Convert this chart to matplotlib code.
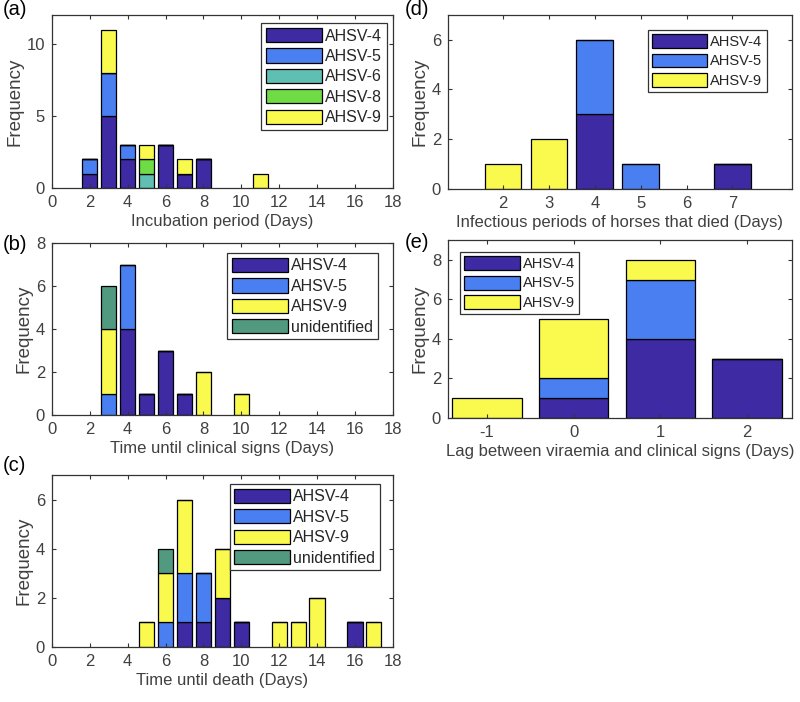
import matplotlib.pyplot as plt
import numpy as np

plt.rcParams['font.family'] = ['Liberation Sans', 'DejaVu Sans']
plt.rcParams['axes.unicode_minus'] = False

# colours for each serotype
c4 = '#3e2aa3'
c5 = '#4a7ff2'
c6 = '#5fbfb2'
c8 = '#6fdc46'
c9 = '#f9f94e'
cu = '#529a7f'

# (a) incubation period
a_days = [2, 3, 4, 5, 6, 7, 8, 11]
a_ahsv4 = [1, 5, 2, 0, 3, 1, 2, 0]
a_ahsv5 = [1, 3, 1, 0, 0, 0, 0, 0]
a_ahsv6 = [0, 0, 0, 1, 0, 0, 0, 0]
a_ahsv8 = [0, 0, 0, 1, 0, 0, 0, 0]
a_ahsv9 = [0, 3, 0, 1, 0, 1, 0, 1]

# (b) time until clinical signs
b_days = [3, 4, 5, 6, 7, 8, 10]
b_ahsv4 = [0, 4, 1, 3, 1, 0, 0]
b_ahsv5 = [1, 3, 0, 0, 0, 0, 0]
b_ahsv9 = [3, 0, 0, 0, 0, 2, 1]
b_unid = [2, 0, 0, 0, 0, 0, 0]

# (c) time until death
c_days = [5, 6, 7, 8, 9, 10, 12, 13, 14, 16, 17]
c_ahsv4 = [0, 0, 1, 1, 2, 1, 0, 0, 0, 1, 0]
c_ahsv5 = [0, 1, 2, 2, 0, 0, 0, 0, 0, 0, 0]
c_ahsv9 = [1, 2, 3, 0, 2, 0, 1, 1, 2, 0, 1]
c_unid = [0, 1, 0, 0, 0, 0, 0, 0, 0, 0, 0]

# (d) infectious periods of horses that died
d_days = [2, 3, 4, 5, 7]
d_ahsv4 = [0, 0, 3, 0, 1]
d_ahsv5 = [0, 0, 3, 1, 0]
d_ahsv9 = [1, 2, 0, 0, 0]

# (e) lag between viraemia and clinical signs
e_days = [-1, 0, 1, 2]
e_ahsv4 = [0, 1, 4, 3]
e_ahsv5 = [0, 1, 3, 0]
e_ahsv9 = [1, 3, 1, 0]

txt = '#404040'


def stacked(ax, x, series, labels, colors):
    bottom = np.zeros(len(x))
    for vals, lab, col in zip(series, labels, colors):
        vals = np.array(vals, dtype=float)
        ax.bar(x, vals, width=0.8, bottom=bottom, color=col,
               edgecolor='black', linewidth=0.9, label=lab)
        bottom = bottom + vals


def style(ax, xlabel):
    ax.set_xlabel(xlabel, fontsize=12, color=txt, labelpad=3)
    ax.set_ylabel('Frequency', fontsize=13.5, color=txt, labelpad=2)
    ax.tick_params(direction='in', top=True, right=True, length=3,
                   labelsize=12, labelcolor=txt, color='#333333', pad=5)
    for s in ax.spines.values():
        s.set_color('#333333')
        s.set_linewidth(0.9)


def legend(ax, loc, anchor, fs=11.5):
    lg = ax.legend(loc=loc, bbox_to_anchor=anchor, borderaxespad=0,
                   fontsize=fs, handlelength=40 / fs, handleheight=11.5 / fs,
                   handletextpad=0.2, labelspacing=0.3, borderpad=0.3,
                   fancybox=False, framealpha=1)
    lg.get_frame().set_edgecolor('#333333')
    lg.get_frame().set_linewidth(0.9)
    for t in lg.get_texts():
        t.set_color('#262626')


fig = plt.figure(figsize=(8, 7.02), dpi=100)

ax = fig.add_axes([0.065, 0.732, 0.426, 0.2464])
stacked(ax, a_days, [a_ahsv4, a_ahsv5, a_ahsv6, a_ahsv8, a_ahsv9],
        ['AHSV-4', 'AHSV-5', 'AHSV-6', 'AHSV-8', 'AHSV-9'], [c4, c5, c6, c8, c9])
ax.set_xlim(0, 18)
ax.set_ylim(0, 12)
ax.set_xticks(range(0, 19, 2))
ax.set_yticks([0, 5, 10])
style(ax, 'Incubation period (Days)')
legend(ax, 'upper right', (0.982, 0.954))

ax = fig.add_axes([0.065, 0.4088, 0.426, 0.245])
stacked(ax, b_days, [b_ahsv4, b_ahsv5, b_ahsv9, b_unid],
        ['AHSV-4', 'AHSV-5', 'AHSV-9', 'unidentified'], [c4, c5, c9, cu])
ax.set_xlim(0, 18)
ax.set_ylim(0, 8)
ax.set_xticks(range(0, 19, 2))
ax.set_yticks(range(0, 9, 2))
style(ax, 'Time until clinical signs (Days)')
legend(ax, 'upper right', (0.956, 0.942))

ax = fig.add_axes([0.065, 0.0783, 0.426, 0.245])
stacked(ax, c_days, [c_ahsv4, c_ahsv5, c_ahsv9, c_unid],
        ['AHSV-4', 'AHSV-5', 'AHSV-9', 'unidentified'], [c4, c5, c9, cu])
ax.set_xlim(0, 18)
ax.set_ylim(0, 7)
ax.set_xticks(range(0, 19, 2))
ax.set_yticks(range(0, 7, 2))
style(ax, 'Time until death (Days)')
legend(ax, 'upper right', (0.962, 0.948))

ax = fig.add_axes([0.56, 0.7308, 0.43, 0.248])
stacked(ax, d_days, [d_ahsv4, d_ahsv5, d_ahsv9],
        ['AHSV-4', 'AHSV-5', 'AHSV-9'], [c4, c5, c9])
ax.set_xlim(0.8, 8.3)
ax.set_ylim(0, 7)
ax.set_xticks(range(2, 8))
ax.set_yticks(range(0, 7, 2))
style(ax, 'Infectious periods of horses that died (Days)')
legend(ax, 'upper right', (0.927, 0.914), fs=10.5)

ax = fig.add_axes([0.56, 0.4046, 0.43, 0.2536])
stacked(ax, e_days, [e_ahsv4, e_ahsv5, e_ahsv9],
        ['AHSV-4', 'AHSV-5', 'AHSV-9'], [c4, c5, c9])
ax.set_xlim(-1.45, 2.52)
ax.set_ylim(0, 9)
ax.set_xticks(e_days)
ax.set_yticks(range(0, 9, 2))
style(ax, 'Lag between viraemia and clinical signs (Days)')
legend(ax, 'upper left', (0.035, 0.933), fs=10.5)

# panel letters
for lab, x, y in [('(a)', 0.003, 1.0), ('(b)', 0.003, 0.665), ('(c)', 0.003, 0.35),
                  ('(d)', 0.506, 1.0), ('(e)', 0.506, 0.668)]:
    fig.text(x, y, lab, fontsize=14.5, color='black', va='top', ha='left')

fig.savefig('out.png', dpi=100)
